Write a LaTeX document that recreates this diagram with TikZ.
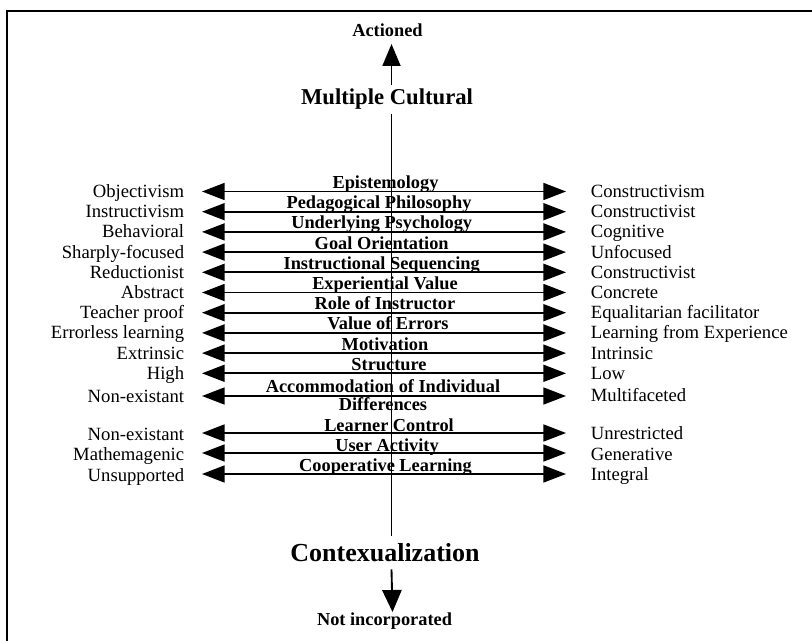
\documentclass[tikz,border=0pt]{standalone}
\usepackage{fontspec}
\setmainfont{Liberation Serif}
\usetikzlibrary{arrows.meta}

\begin{document}
\begin{tikzpicture}[x=0.75pt,y=-0.75pt,>={Triangle[length=17pt,width=12.75pt]}, line width=1.3pt,
lside/.style ={inner sep=0pt, anchor=base east, font=\fontsize{14}{16}\selectfont},
rside/.style ={inner sep=0pt, anchor=base west, font=\fontsize{14}{16}\selectfont},
mid/.style ={inner sep=0pt, anchor=base, align=center, font=\fontsize{13.75}{13.5}\selectfont\bfseries},
big/.style ={inner sep=2.5pt, anchor=base, font=\fontsize{17}{20}\selectfont\bfseries}]

\useasboundingbox (0,0) rectangle (812,641);
\draw[line width=1.5pt] (7,641) |- (812,11);

\node[mid] (act) at (387.5,36.5) {Actioned};
\node[big] (mc) at (387,105) {Multiple Cultural};
\node[big, inner sep=5pt, font=\fontsize{19.5}{22}\selectfont\bfseries] (cz) at (385,561.5) {Contexualization};
\node[mid] (noti) at (384.5,625.5) {Not incorporated};
\coordinate (up) at (391.5,44);
\coordinate (down) at (392.5,612);
\draw[line width=1.4pt, ->, >={Triangle[length=16.5pt,width=13.5pt]}] (mc.north -| up) -- (up);
\draw[line width=1.4pt] (mc.south -| up) -- (cz.north -| up);
\draw[line width=1.4pt, ->, >={Triangle[length=16.5pt,width=14.5pt]}] (cz.south -| up) -- (down);

\coordinate (l1) at (202,191.5);   \coordinate (r1) at (566,191.5);
\coordinate (l2) at (202,211.7);   \coordinate (r2) at (566,211.7);
\coordinate (l3) at (202,231.9);   \coordinate (r3) at (566,231.9);
\coordinate (l4) at (202,252.1);   \coordinate (r4) at (566,252.1);
\coordinate (l5) at (202,272.3);   \coordinate (r5) at (566,272.3);
\coordinate (l6) at (202,292.5);   \coordinate (r6) at (566,292.5);
\coordinate (l7) at (202,312.7);   \coordinate (r7) at (566,312.7);
\coordinate (l8) at (202,332.9);   \coordinate (r8) at (566,332.9);
\coordinate (l9) at (202,353.1);   \coordinate (r9) at (566,353.1);
\coordinate (l10) at (202,373.3);  \coordinate (r10) at (566,373.3);
\coordinate (l11) at (202,396);    \coordinate (r11) at (566,396);
\coordinate (l12) at (202,433);    \coordinate (r12) at (566,433);
\coordinate (l13) at (202,453);    \coordinate (r13) at (566,453);
\coordinate (l14) at (202,474);    \coordinate (r14) at (566,474);

\draw[<->] (l1)--(r1);
\draw[<->] (l2)--(r2);
\draw[<->] (l3)--(r3);
\draw[<->] (l4)--(r4);
\draw[<->] (l5)--(r5);
\draw[<->] (l6)--(r6);
\draw[<->] (l7)--(r7);
\draw[<->] (l8)--(r8);
\draw[<->] (l9)--(r9);
\draw[<->] (l10)--(r10);
\draw[<->] (l11)--(r11);
\draw[<->] (l12)--(r12);
\draw[<->] (l13)--(r13);
\draw[<->] (l14)--(r14);

\node[mid] (epi) at (385.5,188.5) {Epistemology};
\node[mid] (ped) at (379,208.7) {Pedagogical Philosophy};
\node[mid] (psy) at (381.7,228.9) {Underlying Psychology};
\node[mid] (goal) at (381.7,249.1) {Goal Orientation};
\node[mid] (seq) at (381.7,269.3) {Instructional Sequencing};
\node[mid] (exp) at (385,289.5) {Experiential Value};
\node[mid] (role) at (385,309.7) {Role of Instructor};
\node[mid] (err) at (388,329.9) {Value of Errors};
\node[mid] (mot) at (385,350.1) {Motivation};
\node[mid] (str) at (389,370.3) {Structure};
\node[mid] (acc) at (383,410.5) {Accommodation of Individual\\Differences};
\node[mid] (lc) at (389,431) {Learner Control};
\node[mid] (ua) at (387,451) {User Activity};
\node[mid] (coop) at (385.5,471.5) {Cooperative Learning};

\node[lside] (obj) at (185,197.5) {Objectivism};
\node[lside] (ins) at (185,217.7) {Instructivism};
\node[lside] (beh) at (185,237.9) {Behavioral};
\node[lside] (sharp) at (185,258.1) {Sharply-focused};
\node[lside] (red) at (185,278.3) {Reductionist};
\node[lside] (abs) at (185,298.5) {Abstract};
\node[lside] (tp) at (185,318.7) {Teacher proof};
\node[lside] (el) at (185,338.9) {Errorless learning};
\node[lside] (ext) at (185,359.1) {Extrinsic};
\node[lside] (high) at (185,379.3) {High};
\node[lside] (non1) at (185,402) {Non-existant};
\node[lside] (non2) at (185,440) {Non-existant};
\node[lside] (math) at (185,460) {Mathemagenic};
\node[lside] (uns) at (185,481) {Unsupported};

\node[rside] (cons1) at (590,197.5) {Constructivism};
\node[rside] (cons2) at (590,217.7) {Constructivist};
\node[rside] (cog) at (590,237.9) {Cognitive};
\node[rside] (unf) at (590,258.1) {Unfocused};
\node[rside] (cons3) at (590,278.3) {Constructivist};
\node[rside] (conc) at (590,298.5) {Concrete};
\node[rside] (eq) at (590,318.7) {Equalitarian facilitator};
\node[rside] (lfe) at (590,338.9) {Learning from Experience};
\node[rside] (intr) at (590,359.1) {Intrinsic};
\node[rside] (low) at (590,379.3) {Low};
\node[rside] (multi) at (590,401) {Multifaceted};
\node[rside] (unr) at (590,439.5) {Unrestricted};
\node[rside] (gen) at (590,460) {Generative};
\node[rside] (integ) at (590,480) {Integral};

\end{tikzpicture}
\end{document}
